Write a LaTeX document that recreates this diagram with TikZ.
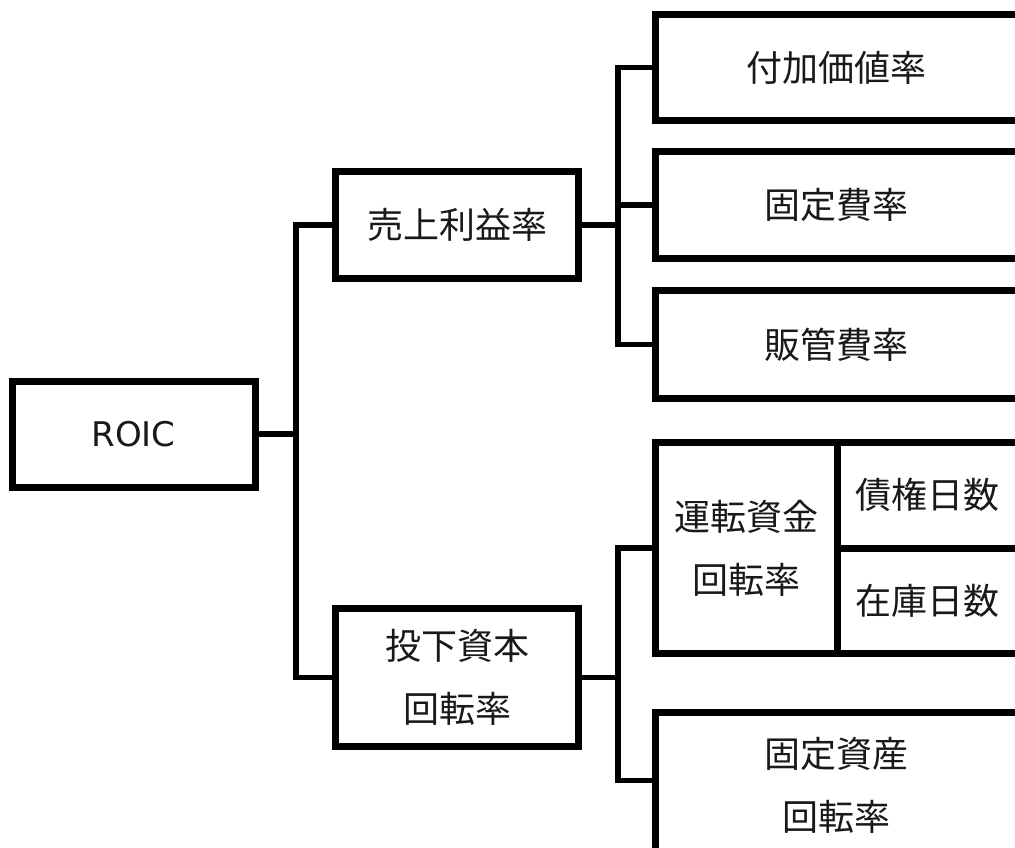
\documentclass[tikz,border=0pt]{standalone}
\usepackage{fontspec}
\newfontfamily\cjk{Noto Sans CJK JP}
\newfontfamily\latinf{DejaVu Sans}
\begin{document}
\begin{tikzpicture}[x=1pt,y=-1pt,
  box/.style={draw=black,line width=7pt,fill=white,inner sep=0pt,align=center,
    font=\cjk\fontsize{36}{63}\selectfont,text=black!90},
  conn/.style={line width=5.5pt,draw=black}]
\useasboundingbox (0,0) rectangle (1015,848);
\clip (0,0) rectangle (1015,848);
% connector junctions
\coordinate (j1) at (296,434);
\coordinate (j2) at (618,225);
\coordinate (j3) at (618,677.5);
% nodes
\node[box,minimum width=243pt,minimum height=106pt,font=\latinf\fontsize{34}{40}\selectfont] (roic) at (133.5,434) {ROIC};
\node[box,minimum width=243pt,minimum height=107pt] (sales) at (457,225) {売上利益率};
\node[box,minimum width=243pt,minimum height=138pt] (invest) at (457,677.5) {投下資本\\回転率};
\node[box,minimum width=362.5pt,minimum height=106pt] (fva) at (836.75,67.5) {付加価値率};
\node[box,minimum width=362.5pt,minimum height=107pt] (fixed) at (836.75,205) {固定費率};
\node[box,minimum width=362.5pt,minimum height=108pt] (sga) at (836.75,344.5) {販管費率};
\node[box,minimum width=181.5pt,minimum height=211pt] (wc) at (746.25,548) {運転資金\\回転率};
\node[box,minimum width=181pt,minimum height=105.5pt] (ar) at (927.5,495.25) {債権日数};
\node[box,minimum width=181pt,minimum height=105.5pt] (inv) at (927.5,600.75) {在庫日数};
\node[box,minimum width=362.5pt,minimum height=145.5pt] (fa) at (836.75,785.25) {固定資産\\回転率};
% connectors
\begin{scope}[on background layer/.style={}]
\end{scope}
\draw[conn] (roic.east) -- (j1);
\draw[conn] (j1) |- (sales.west);
\draw[conn] (j1) |- (invest.west);
\draw[conn] (sales.east) -- (j2);
\draw[conn] (j2) |- (fva.west);
\draw[conn] (j2) |- (fixed.west);
\draw[conn] (j2) |- (sga.west);
\draw[conn] (invest.east) -- (j3);
\draw[conn] (j3) |- (wc.west);
\draw[conn] (j3) |- ([yshift=5pt]fa.west);
\end{tikzpicture}
\end{document}
